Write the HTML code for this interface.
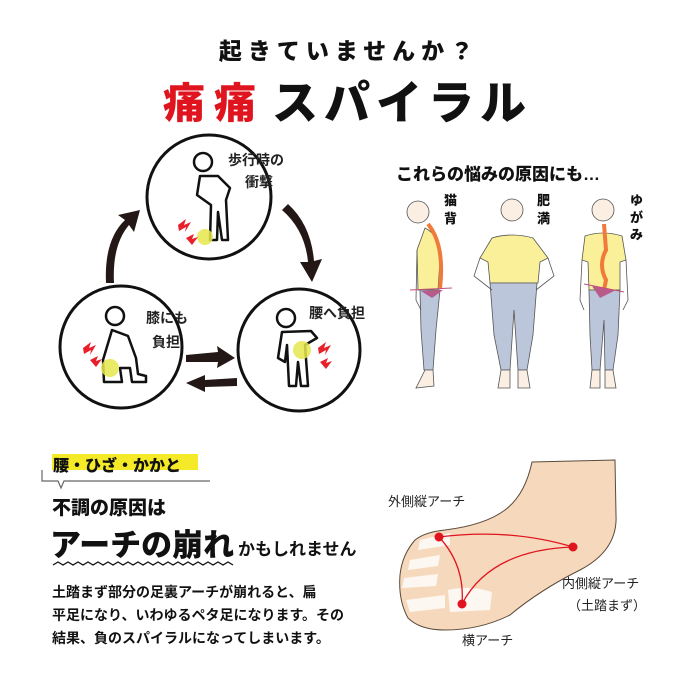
<!DOCTYPE html>
<html><head><meta charset="utf-8"><style>
html,body{margin:0;padding:0;background:#fff}
svg{display:block}
text{font-family:"Liberation Sans","Noto Sans CJK JP",sans-serif}
</style></head><body>
<svg width="700" height="700" viewBox="0 0 700 700" xmlns="http://www.w3.org/2000/svg">
<rect width="700" height="700" fill="#fff"/>
<!-- title -->
<text x="349" y="59" text-anchor="middle" font-size="23" font-weight="900" letter-spacing="6" fill="#111">起きていませんか？</text>
<text x="163" y="118" font-size="42" font-weight="900" fill="#e0141e">痛</text>
<text x="214" y="118" font-size="42" font-weight="900" fill="#e0141e">痛</text>
<text x="272" y="119" font-size="46" font-weight="900" fill="#111" letter-spacing="6">スパイラル</text>

<!-- circles -->
<g fill="none" stroke="#111" stroke-width="3">
<circle cx="209" cy="197" r="62"/>
<circle cx="121" cy="347" r="61"/>
<circle cx="299" cy="350" r="61"/>
</g>
<!-- arrows -->
<g fill="#231815" stroke="none">
<path d="M106,283 Q104,240 125,220 L118,215 L140,210 L134,232 L129,225 Q112,245 114,283 Z"/>
<path d="M282,210 Q305,230 308,262 L300,262 L312,282 L322,259 L314,261 Q311,225 288,204 Z"/>
<path d="M186,355 L218,352 L217,346 L235,358 L217,368 L218,362 L186,362 Z"/>
<path d="M237,378 L205,380 L205,375 L186,383 L205,392 L205,387 L237,386 Z"/>
</g>
<!-- circle labels -->
<g font-size="14" font-weight="700" fill="#222">
<text x="228" y="165">歩行時の</text>
<text x="245" y="187">衝撃</text>
<text x="146" y="323">膝にも</text>
<text x="152" y="347">負担</text>
<text x="309" y="318">腰へ負担</text>
</g>
<!-- figures in circles -->
<g fill="none" stroke="#111" stroke-width="2.5" stroke-linejoin="round">
<circle cx="203" cy="162" r="9"/>
<path d="M200,176 L197,195 L211,205 L210,240 L217,240 L218,212 L222,240 L228,240 L226,200 L230,188 L218,176 Z"/>
<circle cx="115" cy="316" r="9"/>
<path d="M112,330 L103,360 L104,382 L122,382 L120,368 L130,368 L132,382 L146,382 L146,376 L138,374 L136,358 L128,336 Z"/>
<circle cx="286" cy="318" r="9"/>
<path d="M282,332 L278,358 L285,362 L287,345 L289,386 L296,386 L298,362 L301,386 L308,386 L305,345 L317,338 L311,331 Z"/>
</g>
<g fill="#e5e64a" opacity="0.85">
<circle cx="205" cy="237" r="8"/>
<circle cx="110" cy="368" r="9"/>
<circle cx="302" cy="350" r="9"/>
</g>
<g fill="#e8202a">
<path d="M178,225 l8,-6 l-2,6 l7,-3 l-6,10 l1,-5 l-7,4 z"/>
<path d="M186,238 l8,-4 l-2,5 l6,-2 l-6,8 z"/>
<path d="M83,348 l8,-6 l-2,6 l7,-3 l-6,10 l1,-5 l-7,4 z"/>
<path d="M90,360 l8,-4 l-2,5 l6,-2 l-6,8 z"/>
<path d="M318,348 l8,-6 l-2,6 l7,-3 l-6,10 l1,-5 l-7,4 z"/>
<path d="M320,362 l8,-4 l-2,5 l6,-2 l-6,8 z"/>
</g>

<!-- right: women -->
<text x="396" y="180" font-size="17" font-weight="900" fill="#111">これらの悩みの原因にも…</text>
<g font-size="13" font-weight="900" fill="#111">
<text x="444" y="205">猫</text><text x="444" y="223">背</text>
<text x="537" y="205">肥</text><text x="537" y="223">満</text>
<text x="630" y="205">ゆ</text><text x="630" y="222">が</text><text x="630" y="239">み</text>
</g>
<g stroke="#555" stroke-width="0.8">
<circle cx="418" cy="212" r="11" fill="#fbeee2"/>
<path d="M425,228 Q440,235 440,260 L438,290 L418,290 L417,250 Z" fill="#fbf09a"/>
<path d="M420,290 L440,290 L436,330 L433,370 L424,370 L421,330 Z" fill="#bcc6da"/>
<path d="M425,370 L433,370 L434,386 L416,388 Z" fill="#fbeee2"/>
<path d="M417,250 L416,300 L421,310" fill="none"/>
<circle cx="512" cy="210" r="11" fill="#fbeee2"/>
<path d="M492,238 Q512,232 533,238 L548,258 L540,262 L538,283 L490,283 L488,262 L480,258 Z" fill="#fbf09a"/>
<path d="M490,283 L537,283 L533,335 L527,370 L518,370 L514,310 L510,370 L501,370 L494,335 Z" fill="#bcc6da"/>
<path d="M501,370 L510,370 L510,388 L498,388 Z M518,370 L527,370 L530,388 L518,388 Z" fill="#fbeee2"/>
<path d="M480,258 L474,276 L492,290 M548,258 L554,276 L536,290" fill="none"/>
<circle cx="603" cy="210" r="11" fill="#fbeee2"/>
<path d="M585,236 Q603,230 622,236 L626,260 L620,262 L620,290 L589,290 L588,262 L582,260 Z" fill="#fbf09a"/>
<path d="M589,290 L620,290 L618,335 L613,370 L605,370 L604,320 L600,370 L592,370 L590,335 Z" fill="#bcc6da"/>
<path d="M592,370 L600,370 L600,388 L590,388 Z M605,370 L613,370 L616,388 L605,388 Z" fill="#fbeee2"/>
<path d="M582,260 L580,300 L584,310 M626,260 L628,300 L623,310" fill="none"/>
</g>
<path d="M428,224 Q445,245 440,288" stroke="#f07a3a" stroke-width="4" fill="none"/>
<path d="M604,224 L606,250 Q598,265 606,280 L604,290" stroke="#f07a3a" stroke-width="4" fill="none"/>
<path d="M421,291 L443,290 L432,298 Z" fill="#b85a8a"/>
<path d="M592,286 L616,290 L600,298 Z" fill="#b85a8a"/>
<path d="M410,290 L452,288 M584,284 L624,292" stroke="#c0507a" stroke-width="1"/>

<!-- bottom-left text -->
<rect x="52" y="454" width="146" height="16" fill="#f5ea28"/>
<text x="53" y="471" font-size="16" font-weight="900" fill="#111">腰・ひざ・かかと</text>
<path d="M42,470 L42,481 L58,481 L61,488 L64,481 L210,481" fill="none" stroke="#666" stroke-width="1.2"/>
<text x="52" y="514" font-size="19" font-weight="900" fill="#111">不調の原因は</text>
<text x="50" y="556" font-size="31" font-weight="900" fill="#111">アーチの崩れ</text>
<text x="238" y="555" font-size="17" font-weight="700" fill="#111">かもしれません</text>
<path d="M53,565 l5,-3 l5,3 l5,-3 l5,3 l5,-3 l5,3 l5,-3 l5,3 l5,-3 l5,3 l5,-3 l5,3 l5,-3 l5,3 l5,-3 l5,3 l5,-3 l5,3 l5,-3 l5,3 l5,-3 l5,3 l5,-3 l5,3 l5,-3 l5,3 l5,-3 l5,3 l5,-3 l5,3 l5,-3 l5,3 l5,-3 l5,3 l5,-3 l5,3" fill="none" stroke="#111" stroke-width="1.3"/>
<g font-size="14" font-weight="700" fill="#111">
<text x="52" y="597">土踏まず部分の足裏アーチが崩れると、扁</text>
<text x="52" y="620">平足になり、いわゆるペタ足になります。その</text>
<text x="52" y="643">結果、負のスパイラルになってしまいます。</text>
</g>

<!-- foot -->
<path d="M532,462 L615,460 L616,515 Q618,550 580,570 Q540,590 510,615 Q480,630 445,630 Q420,630 408,618 Q398,600 400,575 Q402,555 415,540 Q425,532 445,530 Q485,525 505,510 Q525,495 532,462 Z" fill="#f6d9bd" stroke="#5a4a3a" stroke-width="1"/>
<g fill="#fff" opacity="0.8">
<path d="M420,540 L450,533 L450,545 L418,550 Z"/>
<path d="M410,560 L440,555 L438,566 L408,570 Z"/>
<path d="M404,578 L438,574 L436,586 L402,588 Z"/>
<path d="M406,600 L445,595 L445,608 L410,612 Z"/>
<path d="M448,590 Q470,585 492,592 L490,610 L450,612 Z"/>
</g>
<g fill="none" stroke="#e0141e" stroke-width="1.3">
<path d="M439,537 Q510,528 573,547"/>
<path d="M439,537 Q465,565 462,604"/>
<path d="M573,547 Q490,550 462,604"/>
</g>
<g fill="#e0141e">
<circle cx="439" cy="537" r="4.5"/>
<circle cx="573" cy="547" r="4.5"/>
<circle cx="462" cy="604" r="4.5"/>
</g>
<g font-size="13" fill="#222">
<text x="388" y="506">外側縦アーチ</text>
<text x="562" y="588">内側縦アーチ</text>
<text x="568" y="610">（土踏まず）</text>
<text x="462" y="645">横アーチ</text>
</g>
</svg>
</body></html>
